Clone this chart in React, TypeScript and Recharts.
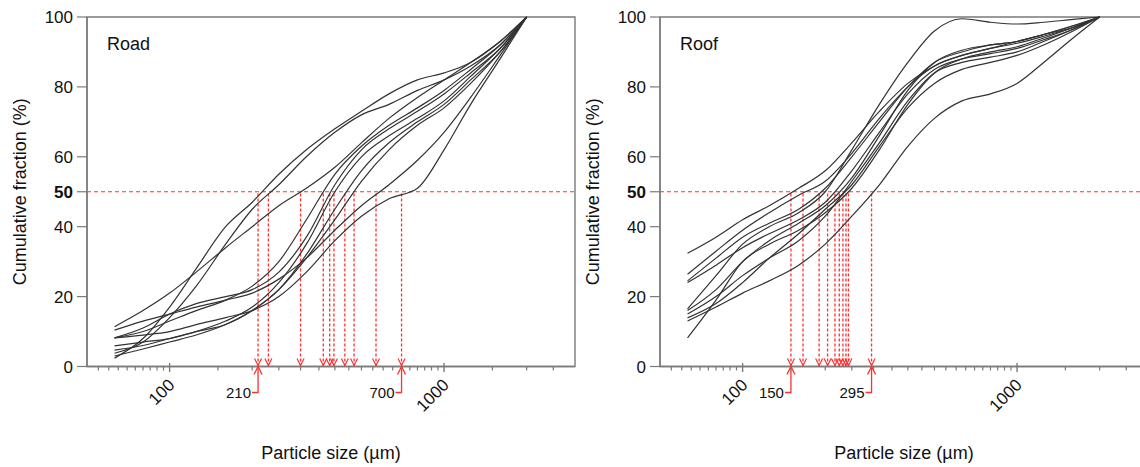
import { LineChart, Line, XAxis, YAxis, ReferenceLine, ReferenceArea, ReferenceDot, Label } from "recharts";

// sieve sizes (µm) where the cumulative curves are read
const sizes = [63, 80, 100, 125, 160, 200, 250, 315, 400, 500, 630, 800, 1000, 1250, 1600, 2000];

// Road samples, cumulative fraction (%)
const roadA = [2.4, 8, 17, 28, 40, 47, 55, 62, 68, 73, 78, 82, 84, 87, 93, 100];
const roadB = [3.8, 7, 14, 23, 35, 45, 52, 60, 67, 72, 75, 79, 82, 86, 92, 100];
const roadC = [11.4, 16, 21, 27, 34, 40, 46, 51, 57, 64, 71, 77, 82, 87, 93, 100];
const roadD = [8.2, 10, 13, 16, 19, 23, 30, 42, 55, 63, 69, 74, 79, 85, 92, 100];
const roadE = [8.2, 11, 15, 18, 20, 22, 27, 37, 52, 62, 68, 73, 78, 84, 91, 100];
const roadF = [4.7, 6, 8, 10, 13, 17, 24, 35, 50, 60, 66, 71, 76, 83, 91, 100];
const roadG = [5.9, 7, 8, 10, 12, 16, 22, 32, 45, 56, 64, 70, 75, 82, 90, 100];
const roadH = [3, 5, 7, 9, 12, 16, 22, 31, 42, 53, 62, 69, 74, 81, 90, 100];
const roadI = [10.4, 13, 15, 17, 19, 21, 25, 31, 39, 46, 52, 59, 67, 77, 89, 100];
const roadJ = [8.2, 9, 10, 12, 14, 16, 20, 27, 36, 43, 48, 51, 62, 75, 88, 100];

// Roof samples, cumulative fraction (%)
const roofA = [32.4, 37, 42, 46, 51, 56, 64, 73, 81, 86, 89, 91, 93, 95, 97.5, 100];
const roofB = [26.4, 33, 39, 44, 49, 53, 61, 71, 80, 86, 89, 91, 92.5, 94.5, 97, 100];
const roofC = [24.5, 31, 37, 41, 45, 51, 60, 70, 80, 87, 90, 92, 93, 95, 97, 100];
const roofD = [16.5, 26, 35, 40, 44, 50, 62, 75, 87, 96, 99.5, 98.5, 98, 98.5, 99.3, 100];
const roofE = [24, 29, 34, 38, 42, 47, 56, 67, 78, 85, 88, 89.5, 91, 93.5, 96.5, 100];
const roofF = [16, 22, 30, 36, 41, 46, 54, 66, 79, 87, 90.5, 92, 93, 95, 97.5, 100];
const roofG = [15, 20, 26, 31, 36, 43, 53, 64, 76, 84, 87, 88.5, 90, 93, 96.5, 100];
const roofH = [13.9, 18, 24, 31, 38, 45, 52, 63, 74, 81, 85, 87, 89, 92, 96, 100];
const roofI = [8.2, 19, 30, 35, 39, 44, 51, 62, 75, 84, 88, 90, 91.5, 94, 97, 100];
const roofJ = [13, 17, 21, 24.5, 29, 35, 43, 52, 63, 71, 76, 78, 81, 87, 94, 100];

// D50 of every sample (µm)
const roadD50 = [210, 229, 300, 363, 383, 397, 435, 470, 565, 700];
const roofD50 = [150, 166, 190, 204, 217, 225, 232, 238, 243, 295];
const roadMarked = [210, 700];
const roofMarked = [150, 295];

const majorTicks = [100, 1000];
const minorTicks = [55, 60, 65, 70, 75, 80, 85, 90, 95, 150, 200, 250, 300, 350, 400, 450, 500, 550, 600, 650, 700, 750, 800, 850, 900, 950, 1500, 2000, 2500];
const yTicks = [0, 20, 40, 50, 60, 80, 100];

const RED = "#ff3030";
const AXIS = "#7a7a7a";
const INK = "#111";

const buildRows = (curves: number[][]) =>
  sizes.map((s, i) => {
    const row: any = { size: s };
    curves.forEach((c, k) => { row["c" + k] = c[i]; });
    return row;
  });

const XTick = ({ x, y, payload }: any) => {
  if (!majorTicks.includes(payload.value)) {
    return <line x1={x} x2={x} y1={y} y2={y + 4} stroke={AXIS} strokeWidth={1.2} />;
  }
  const tx = x + 6, ty = y + 19.5;
  return (
    <g>
      <line x1={x} x2={x} y1={y - 3.5} y2={y + 5.5} stroke={AXIS} strokeWidth={1.4} />
      <text x={tx} y={ty} transform={`rotate(-45, ${tx}, ${ty})`} textAnchor="end" fontSize={17} fill={INK}>{payload.value}</text>
    </g>
  );
};

const YTick = ({ x, y, payload }: any) => (
  <text x={x} y={y} dy="0.36em" textAnchor="end" fontSize={17} fill={INK} fontWeight={payload.value === 50 ? "bold" : "normal"}>
    {payload.value}
  </text>
);

const YTitle = (props: any) => {
  const vb = props.viewBox || { x: 0, y: 17, width: 87, height: 349.5 };
  const cx = vb.x + 20;
  const cy = vb.y + vb.height / 2;
  return (
    <text x={cx} y={cy} transform={`rotate(-90, ${cx}, ${cy})`} textAnchor="middle" dominantBaseline="central" fontSize={18} fill={INK}>
      Cumulative fraction (%)
    </text>
  );
};

// open arrow head where a D50 line hits the axis
const DownHead = ({ cx, cy }: any) => (
  <path d={`M${cx - 3.5},${cy - 8} L${cx},${cy - 1} L${cx + 3.5},${cy - 8}`} stroke={RED} strokeWidth={1.2} fill="none" />
);

const markShape = (v: number) => ({ cx, cy }: any) => (
  <g>
    <path d={`M${cx - 4},${cy + 8} L${cx},${cy} L${cx + 4},${cy + 8}`} stroke={RED} strokeWidth={1.3} fill="none" />
    <path d={`M${cx},${cy} V${cy + 26} H${cx - 6}`} stroke={RED} strokeWidth={1.3} fill="none" />
    <text x={cx - 7} y={cy + 26} dy="0.35em" textAnchor="end" fontSize={15} fill={INK}>{v}</text>
  </g>
);

function Panel({ title, curves, d50, marked, left }: { title: string; curves: number[][]; d50: number[]; marked: number[]; left: number }) {
  const rows = buildRows(curves);
  return (
    <div style={{ position: "absolute", left, top: 0 }}>
      <LineChart width={600} height={467} data={rows} margin={{ top: 17, right: 25, bottom: 0.5, left: 0 }}>
        <ReferenceArea x1={50} x2={3000} y1={0} y2={100} fill="none" stroke={AXIS} strokeWidth={1.4}
          label={{ value: title, position: "insideTopLeft", offset: 20, fontSize: 18, fill: INK }} />
        <XAxis dataKey="size" type="number" scale="log" domain={[50, 3000]} allowDataOverflow
          ticks={[...minorTicks, ...majorTicks].sort((a, b) => a - b)} interval={0}
          tick={<XTick />} tickLine={false} tickSize={0} tickMargin={0} height={100}
          axisLine={{ stroke: AXIS, strokeWidth: 1.4 }}>
          <Label value="Particle size (µm)" position="insideBottom" offset={8} fontSize={18} fill={INK} />
        </XAxis>
        <YAxis type="number" domain={[0, 100]} ticks={yTicks} interval={0} width={87}
          tick={<YTick />} tickSize={10} tickMargin={4}
          tickLine={{ stroke: AXIS, strokeWidth: 1.2 }} axisLine={{ stroke: AXIS, strokeWidth: 1.4 }}>
          <Label content={<YTitle />} />
        </YAxis>
        <ReferenceLine y={50} stroke={RED} strokeWidth={1.2} strokeDasharray="4 3" />
        {d50.map((d) => (
          <ReferenceLine key={"v" + d} segment={[{ x: d, y: 0 }, { x: d, y: 50 }]} stroke={RED} strokeWidth={1.3} strokeDasharray="3 2" />
        ))}
        {d50.map((d) => (
          <ReferenceDot key={"h" + d} x={d} y={0} r={3} ifOverflow="visible" shape={<DownHead />} />
        ))}
        {marked.map((m) => (
          <ReferenceDot key={"m" + m} x={m} y={0} r={3} ifOverflow="visible" shape={markShape(m)} />
        ))}
        {curves.map((_, k) => (
          <Line key={k} dataKey={"c" + k} type="monotone" dot={false} stroke="#333" strokeWidth={1.2} isAnimationActive={false} />
        ))}
      </LineChart>
    </div>
  );
}

export default function App() {
  return (
    <div style={{ position: "absolute", left: 0, top: 0, width: 1140, height: 467, overflow: "hidden", background: "#fff", fontFamily: '"Liberation Sans", Arial, sans-serif' }}>
      <Panel title="Road" curves={[roadA, roadB, roadC, roadD, roadE, roadF, roadG, roadH, roadI, roadJ]} d50={roadD50} marked={roadMarked} left={0} />
      <Panel title="Roof" curves={[roofA, roofB, roofC, roofD, roofE, roofF, roofG, roofH, roofI, roofJ]} d50={roofD50} marked={roofMarked} left={573} />
    </div>
  );
}
